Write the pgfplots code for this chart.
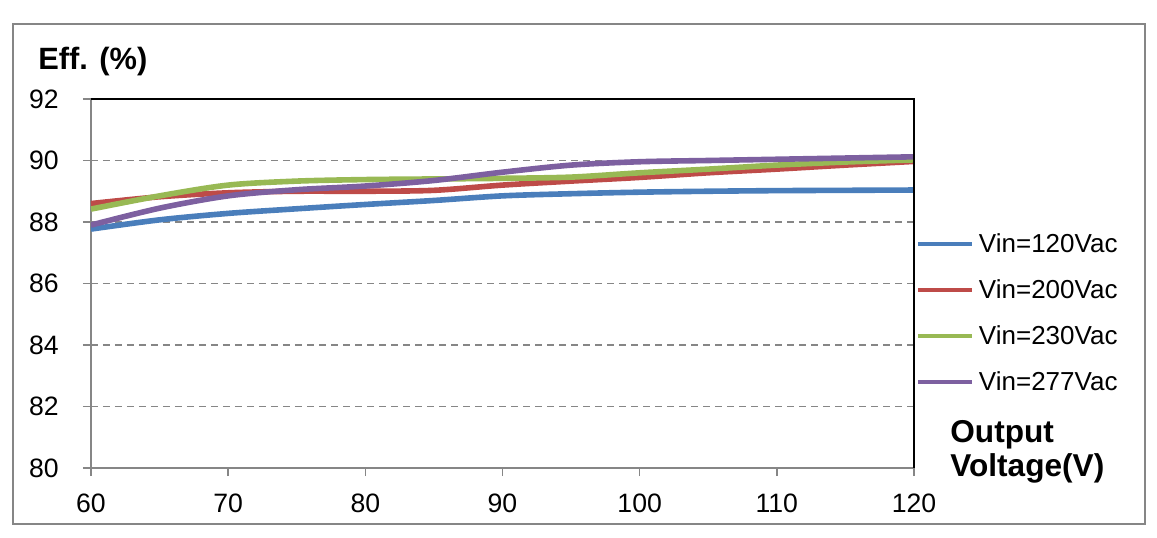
\documentclass[border=0pt]{standalone}
\usepackage{fontspec}
\setmainfont{Liberation Sans}
\usepackage{pgfplots}
\pgfplotsset{compat=1.18}
\definecolor{cblue}{HTML}{4A7EBB}
\definecolor{cred}{HTML}{BE4B48}
\definecolor{cgreen}{HTML}{98B954}
\definecolor{cpurple}{HTML}{7D60A0}
\definecolor{axgray}{HTML}{868686}
\begin{document}
\begin{tikzpicture}
\begin{axis}[
  name=ax,
  scale only axis, width=411.5pt, height=184.5pt,
  xmin=60, xmax=120, ymin=80, ymax=92,
  xtick={60,70,...,120}, ytick={80,82,...,92},
  xticklabel={\pgfmathparse{int(round(\tick))}\pgfmathresult},
  yticklabel={\pgfmathparse{int(round(\tick))}\pgfmathresult},
  axis x line*=bottom, axis y line*=left,
  axis line style={color=axgray, line width=0.75pt},
  tick align=outside, major tick length=4pt,
  tick style={color=axgray, line width=0.75pt},
  ymajorgrids,
  grid style={color=axgray, line width=0.75pt, dash pattern=on 3.5pt off 2.5pt},
  ticklabel style={font=\fontsize{13.3}{15}\selectfont},
  yticklabel style={anchor=east, inner sep=0pt, xshift=-12pt},
  xticklabel style={anchor=north, inner sep=0pt},
  xticklabel shift=9pt,
  legend style={at={(1,0.4214)}, anchor=west, xshift=1pt, draw=none, fill=none,
    inner sep=0pt, outer sep=0pt, row sep=14.0pt, column sep=2.5pt,
    font=\fontsize{13}{15}\selectfont,
    nodes={inner sep=0pt, text height=9pt, text depth=0pt}},
  legend cell align=left,
  legend image code/.code={\draw[#1, line width=2pt] (0pt,0pt) -- (27pt,0pt);},
  every axis plot/.append style={line width=2.8pt, smooth, tension=0.5, no markers},
]
\addplot[cblue] coordinates {(60,87.77) (65,88.07) (70,88.28) (75,88.43) (80,88.57) (85,88.70) (90,88.85) (95,88.92) (100,88.97) (105,89.00) (110,89.02) (115,89.03) (120,89.04)};
\addplot[cred] coordinates {(60,88.60) (65,88.82) (70,88.95) (75,89.00) (80,89.00) (85,89.03) (90,89.20) (95,89.33) (100,89.45) (105,89.60) (110,89.72) (115,89.85) (120,89.97)};
\addplot[cgreen] coordinates {(60,88.42) (65,88.85) (70,89.20) (75,89.33) (80,89.38) (85,89.40) (90,89.42) (95,89.46) (100,89.60) (105,89.72) (110,89.85) (115,89.95) (120,90.02)};
\addplot[cpurple] coordinates {(60,87.90) (65,88.45) (70,88.85) (75,89.05) (80,89.17) (85,89.35) (90,89.62) (95,89.85) (100,89.96) (105,90.00) (110,90.04) (115,90.08) (120,90.12)};
\legend{Vin=120Vac, Vin=200Vac, Vin=230Vac, Vin=277Vac}
\end{axis}
\draw[black, line width=0.75pt] (ax.north west) -- (ax.north east) -- (ax.south east);
\node[anchor=base west, inner sep=0pt, font=\bfseries\fontsize{15.4}{18}\selectfont] at ([xshift=-26.5pt, yshift=199.5pt]ax.south west) {Eff. (\%)};
\node[anchor=west, align=left, inner sep=0pt, font=\bfseries\fontsize{15.8}{17}\selectfont] at ([xshift=18pt, yshift=8pt]ax.south east) {Output\\Voltage(V)};
\draw[axgray, line width=1pt] ([xshift=-39pt, yshift=-28pt]ax.south west) rectangle ([xshift=527pt, yshift=222pt]ax.south west);
\pgfresetboundingbox
\useasboundingbox ([xshift=-45.5pt, yshift=-34.5pt]ax.south west) rectangle ([xshift=533pt, yshift=234pt]ax.south west);
\end{tikzpicture}
\end{document}
